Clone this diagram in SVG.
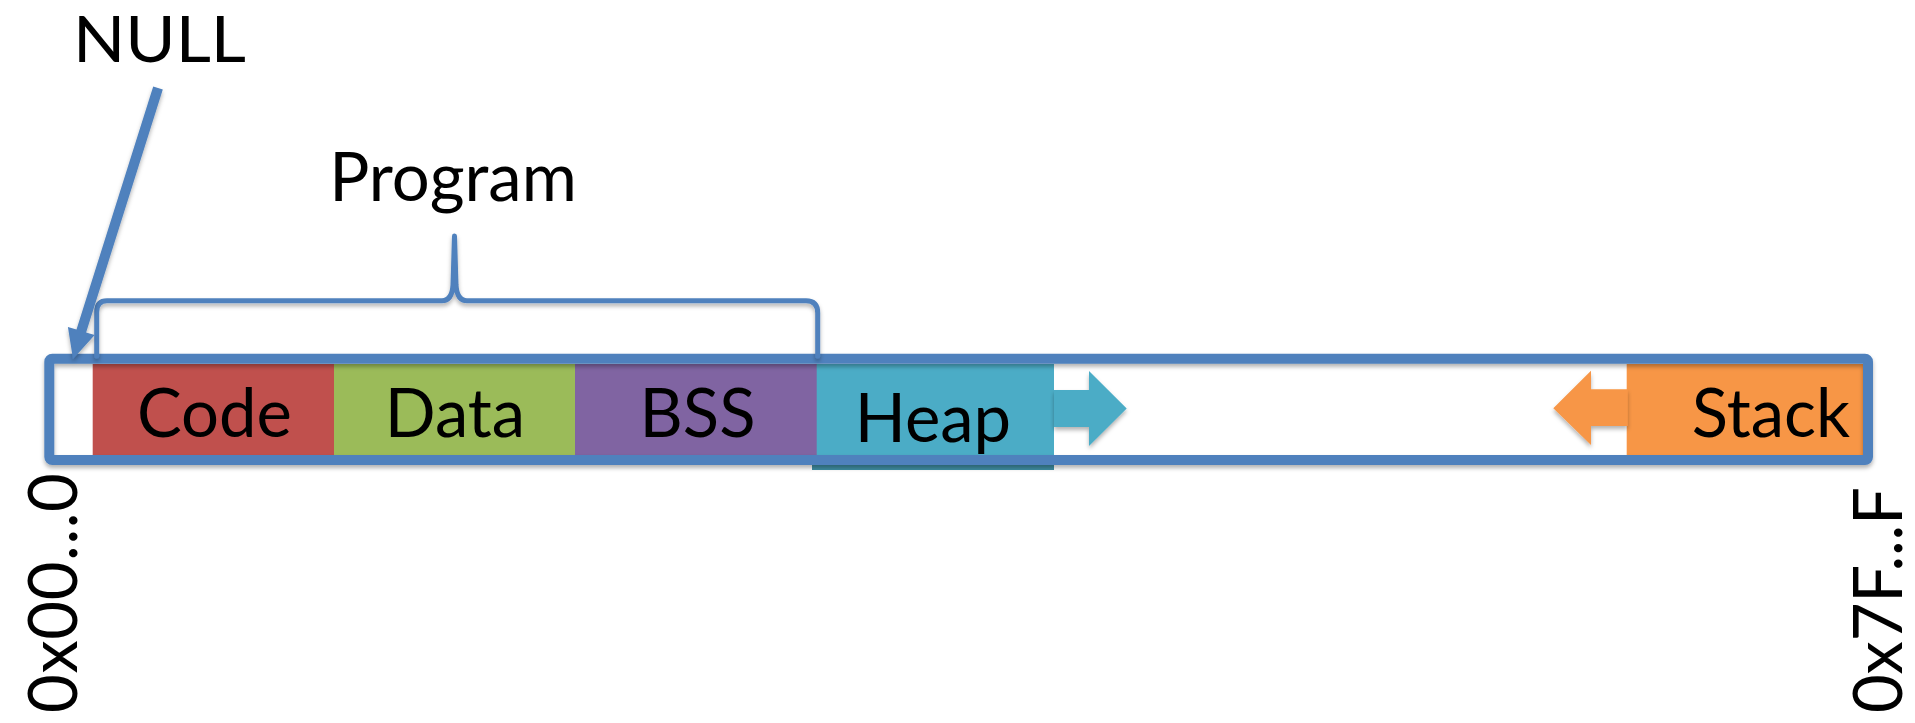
<svg xmlns="http://www.w3.org/2000/svg" width="1915" height="723" viewBox="0 0 1915 723">
<defs>
<filter id="sh" x="-5%" y="-20%" width="110%" height="150%">
<feDropShadow dx="0" dy="3" stdDeviation="2" flood-color="#000" flood-opacity="0.3"/>
</filter>
<style>
.t{font-family:Lato,"Open Sans","Liberation Sans",sans-serif;fill:#000;}
.lbl{font-size:67px;}
.blue{stroke:#4f81bd;fill:none;}
</style>
</defs>
<rect width="1915" height="723" fill="#fff"/>

<g id="code"><rect x="92.7" y="364" width="241.3" height="91" fill="#c0504d"/><text class="t lbl" x="214.5" y="437" text-anchor="middle">Code</text></g>
<g id="data"><rect x="334" y="364" width="241" height="91" fill="#9bbb59"/><text class="t lbl" x="455" y="437" text-anchor="middle">Data</text></g>
<g id="heap"><rect x="812" y="364" width="242" height="101" fill="#4bacc6"/><rect x="812" y="462" width="242" height="8" fill="#3f8ea3"/><text class="t lbl" x="933" y="441.7" text-anchor="middle">Heap</text></g>
<g id="bss"><rect x="575" y="364" width="241.7" height="91" fill="#8064a2"/><text class="t lbl" x="697.5" y="437" text-anchor="middle">BSS</text></g>
<g id="stack"><rect x="1626.7" y="364" width="237" height="91" fill="#f79646"/><text class="t lbl" x="1850" y="437" text-anchor="end">Stack</text></g>

<g id="connectors">
<rect id="frame" x="49.3" y="358.7" width="1818.7" height="101.3" rx="3" class="blue" stroke-width="10" filter="url(#sh)"/>
<path id="heap-arrow" d="M1054 390 L1089 390 L1089 371 L1126.7 408.5 L1089 446 L1089 427 L1054 427 Z" fill="#4bacc6" filter="url(#sh)"/>
<path id="stack-arrow" d="M1627.7 389.3 L1591 389.3 L1591 370.7 L1553.3 408.3 L1591 445 L1591 426 L1627.7 426 Z" fill="#f79646" filter="url(#sh)"/>
<path id="brace" d="M96.7 356 L96.7 312 Q96.7 300.8 107 300.8 L442 300.8 Q452 300.8 453 285 L454.5 236 L456 285 Q457 300.8 467 300.8 L806 300.8 Q817.7 300.8 817.7 313 L817.7 356" class="blue" stroke-width="5" stroke-linejoin="round" stroke-linecap="round" filter="url(#sh)"/>
<path id="null-arrow" d="M153.2 86.5 L162.8 89.5 L86.1 332.5 L94.7 335.1 L73 359 L67.9 326.9 L76.5 329.5 Z" fill="#4f81bd" filter="url(#sh)"/>
</g>

<g id="labels">
<text class="t" x="73" y="62" font-size="63" textLength="173" lengthAdjust="spacingAndGlyphs">NULL</text>
<text class="t lbl" x="453" y="200.7" text-anchor="middle" font-size="62">Program</text>
<text class="t lbl" transform="translate(77,713) rotate(-90)" x="0" y="0" textLength="240" lengthAdjust="spacing">0x00...0</text>
<text class="t lbl" transform="translate(1902,713) rotate(-90)" x="0" y="0" textLength="226" lengthAdjust="spacing">0x7F...F</text>
</g>
</svg>
